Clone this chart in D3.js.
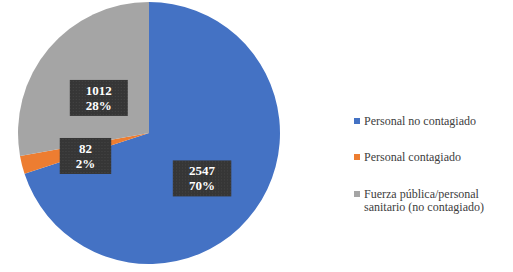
<!DOCTYPE html>
<html>
<head>
<meta charset="utf-8">
<script src="https://cdn.jsdelivr.net/npm/d3@7"></script>
<style>
  body { margin: 0; background: #fff; }
  svg { display: block; }
  .serif { font-family: 'Liberation Serif', 'Times New Roman', 'DejaVu Serif', serif; }
</style>
</head>
<body>
<div id="chart"></div>
<script>
// Categories and values
const categories = ['Personal no contagiado', 'Personal contagiado', 'Fuerza pública/personal sanitario (no contagiado)'];
const legendLines = [['Personal no contagiado'], ['Personal contagiado'], ['Fuerza pública/personal', 'sanitario (no contagiado)']];
const values = [2547, 82, 1012];
const percentLabels = ['70%', '2%', '28%'];
const colors = ['#4472C4', '#ED7D31', '#A5A5A5'];

const width = 513, height = 272;
const cx = 149, cy = 133, radius = 131;

const svg = d3.select('#chart').append('svg')
    .attr('width', width)
    .attr('height', height);

// dotted texture for label boxes
const defs = svg.append('defs');
const pat = defs.append('pattern')
    .attr('id', 'dots')
    .attr('width', 3).attr('height', 3)
    .attr('patternUnits', 'userSpaceOnUse');
pat.append('rect').attr('width', 3).attr('height', 3).attr('fill', '#363636');
pat.append('rect').attr('x', 1).attr('y', 1).attr('width', 1).attr('height', 1).attr('fill', '#454545');

const data = categories.map((c, i) => ({ name: c, value: values[i], pct: percentLabels[i], color: colors[i] }));

const pie = d3.pie().sort(null).value(d => d.value);
const arc = d3.arc().innerRadius(0).outerRadius(radius);
const labelArc = d3.arc().innerRadius(radius * 0.5).outerRadius(radius * 0.5);

const g = svg.append('g').attr('transform', `translate(${cx},${cy})`);

const arcs = pie(data);

g.selectAll('path.slice')
    .data(arcs)
    .enter()
    .append('path')
    .attr('class', 'slice')
    .attr('d', arc)
    .attr('fill', d => d.data.color);

// label boxes (Excel puts them a bit below the centroid)
const labels = g.selectAll('g.lbl')
    .data(arcs)
    .enter()
    .append('g')
    .attr('class', 'lbl')
    .attr('transform', d => {
        const [x, y] = labelArc.centroid(d);
        return `translate(${x},${y + 7})`;
    });

labels.append('rect');

labels.append('text')
    .attr('class', 'serif')
    .attr('text-anchor', 'middle')
    .style('font-size', '13px')
    .style('font-weight', 'bold')
    .style('fill', '#fff')
    .each(function(d) {
        const t = d3.select(this);
        t.append('tspan').attr('x', 0).attr('y', -3).text(d.data.value);
        t.append('tspan').attr('x', 0).attr('y', 12).text(d.data.pct);
    });

labels.each(function() {
    const gEl = d3.select(this);
    const bb = gEl.select('text').node().getBBox();
    const w = Math.max(bb.width + 32, 45);
    const h = 36;
    gEl.select('rect')
        .attr('x', -w / 2)
        .attr('y', -h / 2)
        .attr('width', w)
        .attr('height', h)
        .attr('fill', 'url(#dots)');
});

// Legend
const legend = svg.append('g').attr('transform', 'translate(354,0)');
const legendY = [121, 157, 194];

const items = legend.selectAll('g.item')
    .data(data)
    .enter()
    .append('g')
    .attr('class', 'item')
    .attr('transform', (d, i) => `translate(0,${legendY[i]})`);

items.append('rect')
    .attr('x', 0)
    .attr('y', -3)
    .attr('width', 6)
    .attr('height', 6)
    .attr('fill', d => d.color);

items.append('text')
    .attr('class', 'serif')
    .style('font-size', '12px')
    .style('fill', '#404040')
    .each(function(d, i) {
        const t = d3.select(this);
        legendLines[i].forEach((line, j) => {
            t.append('tspan').attr('x', 10).attr('y', 4 + j * 13).text(line);
        });
    });
</script>
</body>
</html>
